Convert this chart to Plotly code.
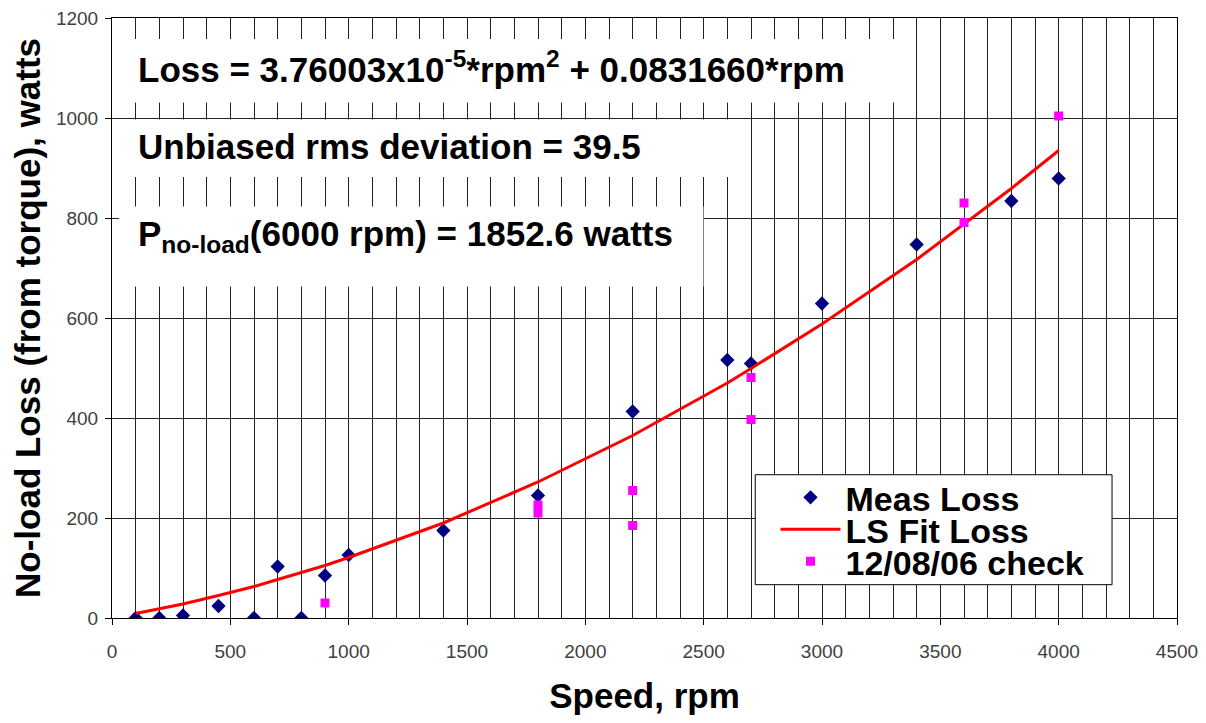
import plotly.graph_objects as go

# Measured no-load loss (diamonds)
meas_rpm = [100, 200, 300, 450, 600, 700, 800, 900, 1000, 1400, 1800, 2200, 2600, 2700, 3000, 3400, 3800, 4000]
meas_loss = [0, 0, 5, 24, 0, 103, 0, 85, 126, 175, 245, 413, 516, 509, 629, 747, 834, 879]

# Least-squares fit curve
fit_rpm = [100, 200, 300, 450, 600, 700, 800, 900, 1000, 1400, 1800, 2200, 2600, 2700, 3000, 3400, 3800, 4000]
fit_loss = [9, 18, 28, 45, 63, 77, 91, 105, 121, 190, 272, 365, 470, 499, 588, 717, 859, 935]

# 12/08/06 check points (squares)
check_rpm = [900, 1800, 1800, 2200, 2200, 2700, 2700, 3600, 3600, 4000]
check_loss = [30, 226, 210, 255, 185, 481, 397, 830, 791, 1004]

x_ticks = [0, 500, 1000, 1500, 2000, 2500, 3000, 3500, 4000, 4500]
y_ticks = [0, 200, 400, 600, 800, 1000, 1200]

FONT = "Liberation Sans"
LEG_FONT = dict(family=FONT, size=34, color="black", weight="bold")

fig = go.Figure()
fig.add_trace(go.Scatter(x=meas_rpm, y=meas_loss, mode="markers", name="Meas Loss",
                         marker=dict(symbol="diamond", size=11, color="#000080"), legend="legend"))
fig.add_trace(go.Scatter(x=fit_rpm, y=fit_loss, mode="lines", name="LS Fit Loss",
                         line=dict(color="#ff0000", width=3), legend="legend2"))
fig.add_trace(go.Scatter(x=check_rpm, y=check_loss, mode="markers", name="12/08/06 check",
                         marker=dict(symbol="square", size=9, color="#ff00ff"), legend="legend3"))

# white text boxes covering the grid
boxes = [(30, 1158, 3353, 1031), (30, 997, 2655, 882), (30, 823, 2499, 663)]
for x0, y0, x1, y1 in boxes:
    fig.add_shape(type="rect", xref="x", yref="y", x0=x0, x1=x1, y0=y1, y1=y0,
                  fillcolor="white", line=dict(width=0), layer="above")

# legend frame
fig.add_shape(type="rect", xref="paper", yref="paper", x0=0.604, x1=0.939, y0=0.0555, y1=0.2388,
              fillcolor="white", line=dict(color="black", width=1), layer="above")

texts = [
    ("Loss = 3.76003x10<sup>-5</sup>*rpm<sup>2</sup> + 0.0831660*rpm", 1103),
    ("Unbiased rms deviation = 39.5", 943),
    ("P<sub>no-load</sub>(6000 rpm) = 1852.6 watts", 765),
]
for t, yv in texts:
    fig.add_annotation(x=100, y=yv, xref="x", yref="y", text=t, showarrow=False,
                       xanchor="left", yanchor="middle",
                       font=dict(family=FONT, size=35, color="black", weight="bold"))

leg_common = dict(x=0.623, xanchor="left", yanchor="middle", bgcolor="rgba(0,0,0,0)",
                  borderwidth=0, font=LEG_FONT, itemwidth=60)
fig.update_layout(
    width=1190, height=707,
    margin=dict(l=104, r=21, t=10, b=97),
    paper_bgcolor="white", plot_bgcolor="white",
    showlegend=True,
    legend=dict(y=0.2005, **leg_common),
    legend2=dict(y=0.1472, **leg_common),
    legend3=dict(y=0.0938, **leg_common),
)
fig.update_xaxes(range=[0, 4500], tickvals=x_ticks, ticks="outside", ticklen=6, tickcolor="black",
                 showgrid=True, gridcolor="#222", gridwidth=1,
                 minor=dict(dtick=100, showgrid=True, gridcolor="#222", gridwidth=1),
                 showline=True, linecolor="black", linewidth=1, mirror=True,
                 tickfont=dict(family=FONT, size=19, color="#404040"),
                 ticklabelstandoff=10, ticklabeloverflow="allow",
                 title=dict(text="Speed, rpm", font=dict(family=FONT, size=35, color="black", weight="bold"),
                            standoff=24),
                 automargin=False, zeroline=False)
fig.update_yaxes(range=[0, 1200], tickvals=y_ticks, ticks="outside", ticklen=6, tickcolor="black",
                 showgrid=True, gridcolor="#222", gridwidth=1,
                 showline=True, linecolor="black", linewidth=1, mirror=True,
                 tickfont=dict(family=FONT, size=19, color="#404040"),
                 ticklabelstandoff=3, ticklabeloverflow="allow",
                 title=dict(text="No-load Loss (from torque), watts",
                            font=dict(family=FONT, size=35, color="black", weight="bold"), standoff=8),
                 automargin=False, zeroline=False)

fig.write_html("out.html")
